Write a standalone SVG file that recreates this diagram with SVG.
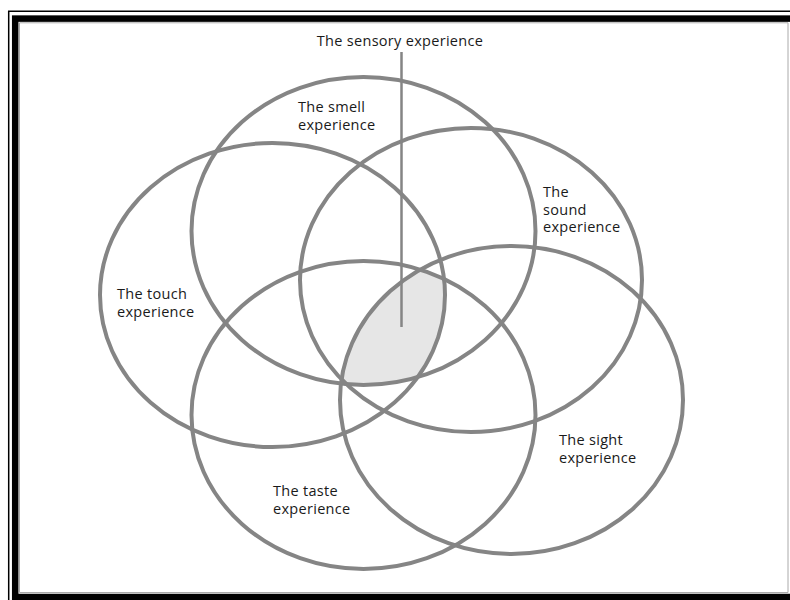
<svg xmlns="http://www.w3.org/2000/svg" width="790" height="600" viewBox="0 0 790 600">
<style>
.ring{fill:none;stroke:#858585;stroke-width:4}
.lbl{font-family:"Open Sans","Noto Sans","Liberation Sans",sans-serif;font-size:14.5px;fill:#1a1a1a;letter-spacing:0.3px}
</style>
<defs>
<clipPath id="cTouch"><ellipse cx="272.5" cy="295" rx="172.5" ry="152"/></clipPath>
<clipPath id="cSound"><ellipse cx="471" cy="280" rx="171" ry="152"/></clipPath>
<clipPath id="cSight"><ellipse cx="511.5" cy="400" rx="171.5" ry="154"/></clipPath>
<clipPath id="cTaste"><ellipse cx="363.5" cy="415" rx="172" ry="154"/></clipPath>
</defs>
<rect width="790" height="600" fill="#fff"/>
<g id="frame">
<path d="M8.7,600 V11.3 H790" fill="none" stroke="#000" stroke-width="1.5"/>
<rect x="15.2" y="18.6" width="800" height="578.4" fill="none" stroke="#000" stroke-width="6.5"/>
<path d="M19.5,592.5 V22.8 H788 V592.5 Z" fill="none" stroke="#aaa" stroke-width="1"/>
</g>
<g id="sensory">
<g clip-path="url(#cTouch)"><g clip-path="url(#cSound)"><g clip-path="url(#cSight)"><g clip-path="url(#cTaste)">
<ellipse cx="363.5" cy="231" rx="172" ry="154" fill="#e6e6e6"/>
</g></g></g></g>
<text class="lbl" x="400" y="46" text-anchor="middle">The sensory experience</text>
</g>
<g id="smell">
<ellipse class="ring" cx="363.5" cy="231" rx="172" ry="154"/>
<text class="lbl" x="298" y="112">The smell</text>
<text class="lbl" x="298" y="129.5">experience</text>
</g>
<g id="touch">
<ellipse class="ring" cx="272.5" cy="295" rx="172.5" ry="152"/>
<text class="lbl" x="117" y="299">The touch</text>
<text class="lbl" x="117" y="316.5">experience</text>
</g>
<g id="sound">
<ellipse class="ring" cx="471" cy="280" rx="171" ry="152"/>
<text class="lbl" x="543" y="197">The</text>
<text class="lbl" x="543" y="214.5">sound</text>
<text class="lbl" x="543" y="232">experience</text>
</g>
<g id="sight">
<ellipse class="ring" cx="511.5" cy="400" rx="171.5" ry="154"/>
<text class="lbl" x="559" y="445">The sight</text>
<text class="lbl" x="559" y="462.5">experience</text>
</g>
<g id="taste">
<ellipse class="ring" cx="363.5" cy="415" rx="172" ry="154"/>
<text class="lbl" x="273" y="496">The taste</text>
<text class="lbl" x="273" y="513.5">experience</text>
</g>
<g id="connectors">
<line x1="401.5" y1="52" x2="401.5" y2="327" stroke="#858585" stroke-width="2.5"/>
</g>
</svg>
